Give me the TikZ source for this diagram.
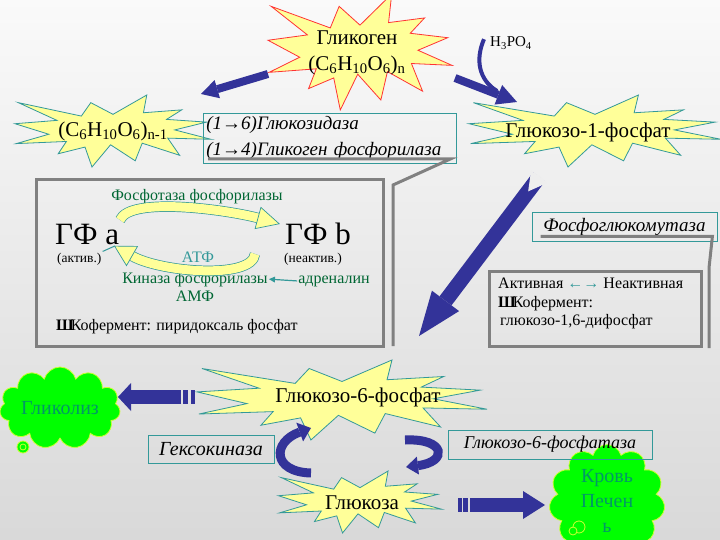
\documentclass[tikz,border=0pt]{standalone}
\usepackage{fontspec}
\setmainfont{Liberation Serif}
\usetikzlibrary{shapes.symbols,arrows.meta,calc}

\definecolor{burstfill}{HTML}{FFFF99}
\definecolor{burstred}{HTML}{FF3333}
\definecolor{tealline}{HTML}{339999}
\definecolor{arrowblue}{HTML}{333399}
\definecolor{darkgreen}{HTML}{006633}
\definecolor{cloudgreen}{HTML}{00FF00}
\definecolor{cloudline}{HTML}{CCFF33}
\definecolor{cloudtext}{HTML}{009966}
\definecolor{calloutgray}{HTML}{808080}

% explosion outline, percent of its box
\def\burstpts{67.23/0, 65.53/24.65, 85.09/20.63, 77.32/33.87, 97.67/37.67, 81.51/48.50, 100/61.53, 77.95/59.92, 84.00/83.77, 64.91/66.93, 61.33/91.38, 48.76/69.14, 39.28/100, 35.72/72.35, 22.05/81.56, 26.24/64.52, 0.63/67.53, 17.23/54.51, 0/39.88, 21.42/35.26, 1.71/10.63, 33.85/29.26, 38.67/10.63}

\newcommand{\burst}[5]{
  \begin{scope}[shift={(#1-#3/2,#2-#4/2)}, xscale=#3/100, yscale=#4/100]
    \draw[fill=burstfill, draw=#5, line width=0.8pt] (50,26.85) \foreach \px/\py in \burstpts { -- (\px,\py) } -- cycle;
  \end{scope}
}

\begin{document}
\begin{tikzpicture}[x=1pt, y=-1pt,
  bigtext/.style={font=\fontsize{21}{26}\selectfont, align=center, inner sep=1pt},
  boxtext/.style={font=\fontsize{16}{19}\selectfont, inner sep=1pt},
  enzbox/.style={draw=tealline, line width=0.8pt, font=\itshape\fontsize{19}{26}\selectfont, inner sep=3pt},
  graybox/.style={draw=calloutgray, line width=3pt},
  callout/.style={draw=calloutgray, line width=3pt},
  blockarrow/.style={draw=arrowblue, line width=#1},
  cloudbox/.style={cloud, cloud puffs=11, cloud ignores aspect, fill=cloudgreen, draw=cloudline, line width=0.8pt, text=cloudtext, font=\fontsize{20}{25}\selectfont, align=center},
  bubble/.style={fill=cloudgreen, draw=cloudline, line width=0.8pt},
  crescent/.style={draw=tealline, double=burstfill, double distance=9pt, line width=0.7pt},
  crescenthead/.style={fill=burstfill, draw=tealline, line width=0.7pt, line join=miter}
]

 \useasboundingbox (0,0) rectangle (720,540);
 \shade[top color=gray!4, bottom color=gray!30] (0,0) rectangle (720,540);
 \clip (0,0) rectangle (720,540);

 %bursts
 \foreach \cx/\cy/\w/\h/\col in {360/52/184/116/burstred, 113/131/196/72/tealline, 595/131/252/72/tealline, 342/400/290/80/tealline, 360/502/163/62/tealline}{
   \burst{\cx}{\cy}{\w}{\h}{\col}
 }

 \node[bigtext] (glycogen) at (357,53) {Гликоген\\(C\textsubscript{6}H\textsubscript{10}O\textsubscript{6})\textsubscript{n}};
 \node[bigtext] (glycogenrest) at (113,131) {(C\textsubscript{6}H\textsubscript{10}O\textsubscript{6})\textsubscript{n-1}};
 \node[bigtext] (gonep) at (588,132) {Глюкозо-1-фосфат};
 \node[bigtext] (gsixp) at (358,397) {Глюкозо-6-фосфат};
 \node[bigtext] (glucose) at (362,503) {Глюкоза};

 %clouds
 \node[cloudbox, minimum width=118pt, minimum height=82pt] (glycolysis) at (60,408) {Гликолиз};
 \node[cloudbox, minimum width=116pt, minimum height=80pt] (blood) at (607,501) {Кровь\\Печен\\ь};
 \foreach \bx/\by/\br in {23/447/6, 23/447/3, 579/527/6, 573/531/4}{
   \draw[bubble] (\bx,\by) circle (\br pt);
 }

 %enzymes
 \node[enzbox, anchor=north west, minimum height=50pt, text width=247pt, align=left] (glucosidase) at (203,113) {(1→6)Глюкозидаза\\(1→4)Гликоген фосфорилаза};
 \node[enzbox, minimum width=185pt, minimum height=29pt] (mutase) at (624.5,226.5) {Фосфоглюкомутаза};
 \node[enzbox, font=\itshape\fontsize{20}{24}\selectfont, minimum width=126pt, minimum height=28pt] (hexokinase) at (211,449) {Гексокиназа};
 \node[enzbox, font=\itshape\fontsize{18}{22}\selectfont, minimum width=204pt, minimum height=29pt] (gsixpase) at (550,444.5) {Глюкозо-6-фосфатаза};

 %detail boxes
 \node[graybox, anchor=north west, minimum width=347pt, minimum height=167pt] (gfbox) at (35,178) {};
 \node[graybox, anchor=north west, minimum width=212pt, minimum height=75pt] (activebox) at (488,270) {};
 \draw[callout] ([xshift=5pt,yshift=5pt]glucosidase.south west) -- ([xshift=-6pt,yshift=5pt]glucosidase.south east) -- ([xshift=8pt,yshift=-7pt]gfbox.north east) -- ([xshift=8pt,yshift=2pt]gfbox.south east);
 \draw[callout] ([xshift=9pt,yshift=5pt]mutase.south west) -- ([xshift=-5pt,yshift=5pt]mutase.south east) -- ([xshift=6pt,yshift=2pt]activebox.north east) -- ([xshift=6pt]activebox.south east);

 \node[boxtext, text=darkgreen, anchor=base] (phosphatase) at (197,201) {Фосфотаза фосфорилазы};
 \node[anchor=base west, inner sep=0pt, font=\fontsize{31}{31}\selectfont] (gfa) at (55,244) {ГФ a};
 \node[anchor=base west, inner sep=1pt, font=\fontsize{13.5}{16}\selectfont] (gfaact) at (56,262) {(актив.)};
 \node[anchor=base west, inner sep=0pt, font=\fontsize{31}{31}\selectfont] (gfb) at (285,244) {ГФ b};
 \node[anchor=base west, inner sep=1pt, font=\fontsize{13.5}{16}\selectfont] (gfbinact) at (283,262) {(неактив.)};
 \node[boxtext, text=tealline, anchor=base] (atp) at (198,262) {АТФ};
 \node[boxtext, text=darkgreen, anchor=base] (kinase) at (195,283) {Киназа фосфорилазы};
 \node[boxtext, text=darkgreen, anchor=base] (adrenaline) at (334,283) {адреналин};
 \node[boxtext, text=darkgreen, anchor=base] (amp) at (195,301) {АМФ};
 \node[boxtext, anchor=base west] (coenzyme) at (55,330) {{\bfseries Ш}\kern-3pt Кофермент: пиридоксаль фосфат};

 \node[boxtext, anchor=base west] (activity) at (497,288) {Активная \textcolor{tealline}{←→} Неактивная};
 \node[boxtext, anchor=base west] (coenzymeb) at (497,307) {{\bfseries Ш}\kern-3pt Кофермент:};
 \node[boxtext, anchor=base west] (diphosphate) at (499,325) {глюкозо-1,6-дифосфат};

 %yellow cycle
 \coordinate (gfatop) at (120,220);
 \coordinate (gfbtop) at (258,218);
 \draw[crescent] (gfatop) .. controls (130,196) and (228,210) .. (gfbtop);
 \draw[crescenthead] (260.9,207.4) -- (279.2,223.8) -- (255.1,228.6) -- cycle;
 \coordinate (gfbbot) at (255,254);
 \coordinate (gfabot) at (132,256);
 \coordinate (gfatip) at (114.6,246.1);
 \draw[crescent] (gfbbot) .. controls (252,280) and (160,272) .. (gfabot);
 \draw[crescenthead] (137.5,246.4) -- (gfatip) -- (126.5,265.6) -- cycle;
 \draw[tealline, line width=1pt] (gfaact.north east) -- (gfatip);
 \draw[tealline, line width=1.2pt, -{Triangle[length=6pt,width=6pt,line width=0pt]}] (adrenaline.west) -- (kinase.east);

 %blue arrows
 \coordinate (glycogenw) at (268,74);
 \coordinate (restne) at (201,94);
 \draw[blockarrow=8pt, -{Triangle[length=17pt,width=19pt,line width=0pt]}] (glycogenw) -- (restne);
 \coordinate (glycogene) at (455,78);
 \coordinate (gonepnw) at (517,102);
 \draw[blockarrow=8pt, -{Triangle[length=20pt,width=21pt,line width=0pt]}] (glycogene) -- (gonepnw);
 \node[font=\fontsize{15}{17}\selectfont, anchor=base west, inner sep=1pt] (phosphoric) at (489,47) {H\textsubscript{3}PO\textsubscript{4}};
 \draw[arrowblue, line width=4pt] ([xshift=-5pt,yshift=4pt]phosphoric.west) .. controls (475,60) and (479,80) .. (497,91);

 \coordinate (gonepsw) at (539,177);
 \coordinate (gsixpne) at (419,336);
 \draw[blockarrow=15pt, -{Triangle[length=44pt,width=34pt,line width=0pt]}] (gonepsw) -- (gsixpne);
 \fill[gray!13] ($(gonepsw)!-1pt!(gsixpne)$) -- ($(gonepsw)!10pt!90:(gsixpne)$) -- ($(gonepsw)!18pt!(gsixpne)$) -- ($(gonepsw)!10pt!-90:(gsixpne)$) -- cycle;

 \coordinate (gsixpw) at (196,397);
 \coordinate (glycolysise) at (118,397);
 \draw[blockarrow=14pt, -{Triangle[length=13pt,width=28pt,line width=0pt]}] ([xshift=-15pt]gsixpw) -- (glycolysise);
 \foreach \bx/\bw in {183/5, 191/3.5}{
   \fill[arrowblue] (\bx,390) rectangle ++(\bw,14);
 }

 \coordinate (glucosee) at (458,505);
 \coordinate (bloodw) at (545,505);
 \draw[blockarrow=14pt, -{Triangle[length=22pt,width=28pt,line width=0pt]}] ([xshift=12pt]glucosee) -- (bloodw);
 \foreach \bx/\bw in {458/4, 463/5}{
   \fill[arrowblue] (\bx,498) rectangle ++(\bw,14);
 }

 \coordinate (glucosenw) at (311,473);
 \coordinate (gsixps) at (311,428);
 \draw[blockarrow=9pt, -{Triangle[length=12pt,width=20pt,line width=0pt]}] (glucosenw) .. controls (272,472) and (272,442) .. (gsixps);
 \coordinate (gsixpse) at (405,440);
 \coordinate (glucosene) at (406,467);
 \draw[blockarrow=9pt, -{Triangle[length=12pt,width=18pt,line width=0pt]}] (gsixpse) .. controls (446,438) and (448,462) .. (glucosene);

\end{tikzpicture}
\end{document}
